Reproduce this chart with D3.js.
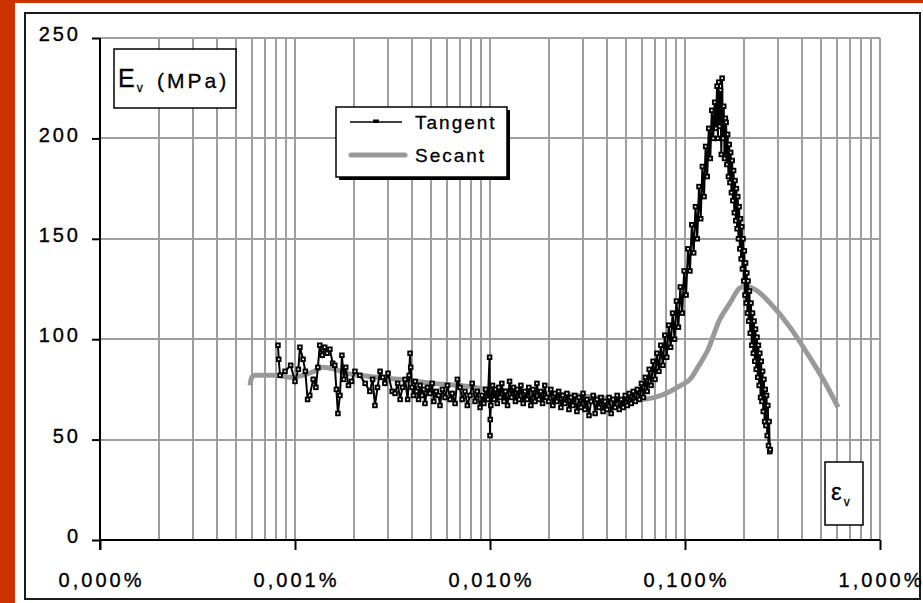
<!DOCTYPE html>
<html><head><meta charset="utf-8">
<script src="https://cdn.jsdelivr.net/npm/d3@7"></script>
<style>
html,body{margin:0;padding:0;background:#fff;}
svg{display:block;font-family:"Liberation Sans",Arial,sans-serif;}
</style></head>
<body>
<svg id="chart" width="923" height="603"></svg>
<script>
// ---------- DATA ----------
const yTicks = [0, 50, 100, 150, 200, 250];
const xTickValues = [0.0001, 0.001, 0.01, 0.1, 1];
const xTickLabels = ["0,000%", "0,001%", "0,010%", "0,100%", "1,000%"];
const seriesNames = ["Tangent", "Secant"];
const yLabel = ["E", "v", "(MPa)"];
const xLabel = ["ε", "v"];

// Secant modulus (strain in %, E in MPa)
const secantStrain = [0.000588, 0.000600, 0.000624, 0.00080, 0.000942, 0.00110, 0.00125, 0.00139, 0.00160, 0.00185,
  0.00215, 0.00260, 0.00345, 0.00420, 0.00511, 0.0070, 0.0100, 0.0140, 0.0203, 0.0280,
  0.0366, 0.0480, 0.0588, 0.0700, 0.0838, 0.0950, 0.106, 0.118, 0.130, 0.151,
  0.170, 0.191, 0.205, 0.215, 0.235, 0.273, 0.345, 0.423, 0.511, 0.610];
const secantE = [77, 81, 82, 82, 81, 82, 84, 86, 85, 83,
  82, 81, 80, 79, 78, 77, 75, 74, 73, 72,
  71, 70, 70, 71, 74, 77, 80, 87, 94, 110,
  118, 125.5, 126.5, 126, 124, 118, 106, 93, 80, 66];

// Tangent modulus (strain in %, E in MPa)
const tangentStrain = [
  0.000818, 0.000825, 0.000838, 0.000889, 0.000950, 0.00100, 0.00104, 0.00106, 0.00110, 0.00113,
  0.00116, 0.00119, 0.00124, 0.00128, 0.00131, 0.00134, 0.00138, 0.00142, 0.00146, 0.00151,
  0.00156, 0.00160, 0.00163, 0.00166, 0.00170, 0.00174, 0.00178, 0.00182, 0.00188, 0.00195,
  0.00203, 0.00215, 0.00229, 0.00242, 0.00250, 0.00257, 0.00265, 0.00273, 0.00282, 0.00289,
  0.00300, 0.00315, 0.00326, 0.00336, 0.00346, 0.00356, 0.00367, 0.00378, 0.00385, 0.00389,
  0.00392, 0.00398, 0.00405, 0.00413, 0.00420, 0.00430, 0.00438, 0.00448, 0.00458, 0.00464,
  0.00478, 0.00492, 0.00505, 0.00515, 0.00530, 0.00545, 0.00554, 0.00570, 0.00588, 0.00605,
  0.00624, 0.00640, 0.00662, 0.00680, 0.00702, 0.00720, 0.00744, 0.00765, 0.00790, 0.00810,
  0.00838, 0.00860, 0.00889, 0.00910, 0.00930, 0.00950, 0.00975, 0.00995, 0.01000, 0.01003,
  0.0101, 0.0103, 0.0105, 0.0107, 0.0109, 0.0111, 0.0113, 0.0115, 0.0118, 0.0120,
  0.0123, 0.0126, 0.0129, 0.0132, 0.0135, 0.0138, 0.0141, 0.0144, 0.0148, 0.0151,
  0.0155, 0.0158, 0.0162, 0.0166, 0.0170, 0.0174, 0.0178, 0.0182, 0.0186, 0.0191,
  0.0195, 0.0200, 0.0205, 0.0210, 0.0215, 0.0220, 0.0225, 0.0231, 0.0236, 0.0242,
  0.0248, 0.0254, 0.0260, 0.0266, 0.0272, 0.0279, 0.0286, 0.0293, 0.0300, 0.0307,
  0.0314, 0.0322, 0.0330, 0.0338, 0.0346, 0.0354, 0.0362, 0.0371, 0.0380, 0.0389,
  0.0398, 0.0408, 0.0418, 0.0428, 0.0438, 0.0449, 0.0460, 0.0471, 0.0482, 0.0494,
  0.0506, 0.0518, 0.0530, 0.0543, 0.0556, 0.0570,
  0.0584, 0.0598, 0.0612, 0.0626, 0.0640, 0.0655, 0.0670, 0.0686, 0.0702, 0.0718,
  0.0735, 0.0752, 0.0770, 0.0788, 0.0806, 0.0825, 0.0844, 0.0864, 0.0884, 0.0904,
  0.0925, 0.0946, 0.0968, 0.0990, 0.1013, 0.1036, 0.1060, 0.1084, 0.1108, 0.1132,
  0.1156, 0.1180, 0.1204, 0.1228, 0.1252, 0.1276, 0.1300, 0.1324, 0.1348, 0.1372,
  0.1396, 0.1420, 0.1440, 0.1460, 0.1475, 0.1490, 0.1505, 0.1520, 0.1535, 0.1550,
  0.1565, 0.1580, 0.1595, 0.1610,
  0.1625, 0.1640, 0.1655, 0.1670, 0.1685, 0.1700, 0.1715, 0.1730, 0.1745, 0.1760,
  0.1775, 0.1790, 0.1805, 0.1820, 0.1835, 0.1850, 0.1865, 0.1880, 0.1895, 0.1910,
  0.1925, 0.1940, 0.1955, 0.1970, 0.1985, 0.2000, 0.2015, 0.2030, 0.2045, 0.2060,
  0.2075, 0.2090, 0.2105, 0.2120, 0.2140, 0.2160, 0.2180, 0.2200, 0.2220, 0.2240,
  0.2260, 0.2280, 0.2300, 0.2320, 0.2340, 0.2360, 0.2380, 0.2400, 0.2420, 0.2440,
  0.2460, 0.2480, 0.2500, 0.2520, 0.2540, 0.2560, 0.2580, 0.2600, 0.2620, 0.2640,
  0.2660, 0.2680, 0.2700, 0.2720, 0.2735];
const tangentE = [
  97, 90, 82, 84, 87, 79, 85, 96, 90, 84,
  70, 72, 80, 76, 86, 97, 92, 96, 93, 95,
  88, 87, 75, 63, 72, 92, 80, 86, 77, 79,
  84, 82, 78, 74, 80, 67, 76, 84, 81, 78,
  83, 74, 73, 78, 70, 76, 80, 70, 82, 93,
  86, 76, 72, 79, 74, 70, 77, 72, 75, 68,
  76, 73, 78, 69, 74, 72, 67, 75, 71, 77,
  70, 73, 68, 80, 76, 70, 74, 67, 72, 78,
  69, 74, 66, 72, 68, 75, 70, 91, 52, 60,
  67, 77, 70, 75, 68, 76, 71, 78, 69, 74,
  67, 79, 71, 76, 69, 75, 70, 77, 68, 74,
  70, 76, 67, 75, 69, 78, 70, 74, 68, 77,
  71, 69, 75, 67, 73, 69, 74, 66, 72, 68,
  73, 65, 71, 67, 72, 64, 71, 66, 73, 65,
  70, 62, 69, 72, 63, 70, 66, 71, 64, 69,
  65, 71, 63, 70, 66, 72, 65, 70, 66, 72,
  67, 73, 68, 74, 69, 75,
  70, 78, 71, 81, 74, 85, 77, 89, 80, 93,
  84, 97, 87, 102, 91, 107, 96, 113, 100, 119,
  106, 126, 113, 134, 122, 145, 134, 157, 143, 166,
  150, 176, 160, 186, 171, 196, 181, 205, 190, 214,
  200, 218, 205, 226, 200, 228, 206, 224, 192, 230,
  200, 216, 190, 210,
  208, 187, 202, 181, 197, 178, 193, 173, 189, 169,
  184, 163, 179, 159, 175, 155, 171, 150, 166, 145,
  160, 140, 156, 135, 150, 129, 144, 122, 138, 118,
  133, 113, 129, 109, 124, 103, 118, 97, 113, 93,
  109, 89, 105, 85, 101, 81, 97, 77, 93, 71,
  89, 69, 84, 64, 80, 59, 75, 57, 72, 52,
  67, 47, 59, 44, 45];

// ---------- DRAW ----------
const svg = d3.select("#chart");
const W = 923, H = 603;
const M = {left: 100, right: 880, top: 38, bottom: 540};

svg.append("rect").attr("x", 0).attr("y", 0).attr("width", W).attr("height", H).attr("fill", "#cc3300");
svg.append("rect").attr("x", 15).attr("y", 3).attr("width", W - 15).attr("height", H - 3).attr("fill", "#fff");
svg.append("rect").attr("x", 25).attr("y", 13).attr("width", 895).attr("height", 586)
  .attr("fill", "#fff").attr("stroke", "#1a1a1a").attr("stroke-width", 2);

const x = d3.scaleLog().domain([0.0001, 1]).range([M.left, M.right]);
const y = d3.scaleLinear().domain([0, 250]).range([M.bottom, M.top]);

// grid
const grid = svg.append("g").attr("stroke", "#9e9e9e").attr("stroke-width", 2);
grid.selectAll("line.v").data(x.ticks().filter(v => v > 0.0001)).enter().append("line")
  .attr("x1", d => Math.round(x(d))).attr("x2", d => Math.round(x(d)))
  .attr("y1", M.top).attr("y2", M.bottom);
grid.selectAll("line.h").data(yTicks.filter(v => v > 0)).enter().append("line")
  .attr("x1", M.left).attr("x2", M.right)
  .attr("y1", d => Math.round(y(d))).attr("y2", d => Math.round(y(d)));

// secant
const secData = secantStrain.map((s, i) => [s, secantE[i]]);
svg.append("path").datum(secData)
  .attr("d", d3.line().curve(d3.curveMonotoneX).x(d => x(d[0])).y(d => y(d[1])))
  .attr("fill", "none").attr("stroke", "#999").attr("stroke-width", 5)
  .attr("stroke-linejoin", "round");

// tangent
const tanData = tangentStrain.map((s, i) => [s, tangentE[i]]);
svg.append("path").datum(tanData)
  .attr("d", d3.line().x(d => x(d[0])).y(d => y(d[1])))
  .attr("fill", "none").attr("stroke", "#000").attr("stroke-width", 2);
svg.append("g").selectAll("rect").data(tanData).enter().append("rect")
  .attr("x", d => x(d[0]) - 1.8).attr("y", d => y(d[1]) - 1.8)
  .attr("width", 3.6).attr("height", 3.6)
  .attr("fill", "#fff").attr("stroke", "#000").attr("stroke-width", 1.9);

// axes
const yAxis = d3.axisLeft(y).tickValues(yTicks).tickSize(8).tickFormat("");
const gy = svg.append("g").attr("transform", `translate(${M.left},0)`).call(yAxis);
gy.select(".domain").attr("stroke", "#000").attr("stroke-width", 2).attr("d", `M0,${M.top}V${M.bottom + 10}`);
gy.selectAll(".tick line").attr("stroke", "#000").attr("stroke-width", 2);

const xAxis = d3.axisBottom(x).tickValues(xTickValues).tickSize(10).tickFormat("");
const gx = svg.append("g").attr("transform", `translate(0,${M.bottom})`).call(xAxis);
gx.select(".domain").attr("stroke", "#000").attr("stroke-width", 2).attr("d", `M${M.left},0H${M.right}`);
gx.selectAll(".tick line").attr("stroke", "#000").attr("stroke-width", 2);

// tick labels
const LS = 3;
svg.append("g").selectAll("text").data(yTicks).enter().append("text")
  .attr("x", 78 + LS).attr("y", d => y(d) - 2)
  .attr("text-anchor", "end").attr("dominant-baseline", "middle")
  .attr("font-size", 20).attr("letter-spacing", LS).attr("fill", "#000")
  .attr("stroke", "#000").attr("stroke-width", 0.35)
  .text(d => d);
svg.append("g").selectAll("text").data(xTickValues).enter().append("text")
  .attr("x", d => x(d) + LS / 2).attr("y", 587)
  .attr("text-anchor", "middle")
  .attr("font-size", 20).attr("letter-spacing", LS).attr("fill", "#000")
  .attr("stroke", "#000").attr("stroke-width", 0.35)
  .text((d, i) => xTickLabels[i]);

// y label box
svg.append("rect").attr("x", 114).attr("y", 49).attr("width", 122).attr("height", 59)
  .attr("fill", "#fff").attr("stroke", "#000").attr("stroke-width", 1.5);
const yl = svg.append("text").attr("x", 118).attr("y", 87).attr("font-size", 25).attr("fill", "#000")
  .attr("stroke", "#000").attr("stroke-width", 0.3);
yl.append("tspan").text(yLabel[0]);
yl.append("tspan").attr("font-size", 12).attr("dx", 2).attr("dy", 5).text(yLabel[1]);
yl.append("tspan").attr("x", 157).attr("y", 88).attr("font-size", 21).attr("letter-spacing", 3).text(yLabel[2]);

// x label box
svg.append("rect").attr("x", 825).attr("y", 462).attr("width", 38).attr("height", 63)
  .attr("fill", "#fff").attr("stroke", "#000").attr("stroke-width", 1.5);
const xl = svg.append("text").attr("x", 831).attr("y", 500).attr("font-size", 24).attr("fill", "#000")
  .attr("stroke", "#000").attr("stroke-width", 0.3);
xl.append("tspan").text(xLabel[0]);
xl.append("tspan").attr("font-size", 12).attr("dx", 2).attr("dy", 6).text(xLabel[1]);

// legend
const lg = svg.append("g");
lg.append("rect").attr("x", 339).attr("y", 110).attr("width", 171).attr("height", 70).attr("fill", "#000");
lg.append("rect").attr("x", 336).attr("y", 107).attr("width", 171).attr("height", 70)
  .attr("fill", "#fff").attr("stroke", "#000").attr("stroke-width", 1.5);
lg.append("line").attr("x1", 350).attr("x2", 402).attr("y1", 122).attr("y2", 122)
  .attr("stroke", "#000").attr("stroke-width", 1.6);
lg.append("rect").attr("x", 373).attr("y", 119.5).attr("width", 6).attr("height", 3.5).attr("fill", "#000");
lg.append("line").attr("x1", 351).attr("x2", 405).attr("y1", 155).attr("y2", 155)
  .attr("stroke", "#999").attr("stroke-width", 5).attr("stroke-linecap", "round");
lg.selectAll("text.lab").data(seriesNames).enter().append("text")
  .attr("x", 415).attr("y", (d, i) => 129 + i * 33)
  .attr("font-size", 19).attr("letter-spacing", 2).attr("fill", "#000")
  .attr("stroke", "#000").attr("stroke-width", 0.3)
  .text(d => d);
</script>
</body></html>
